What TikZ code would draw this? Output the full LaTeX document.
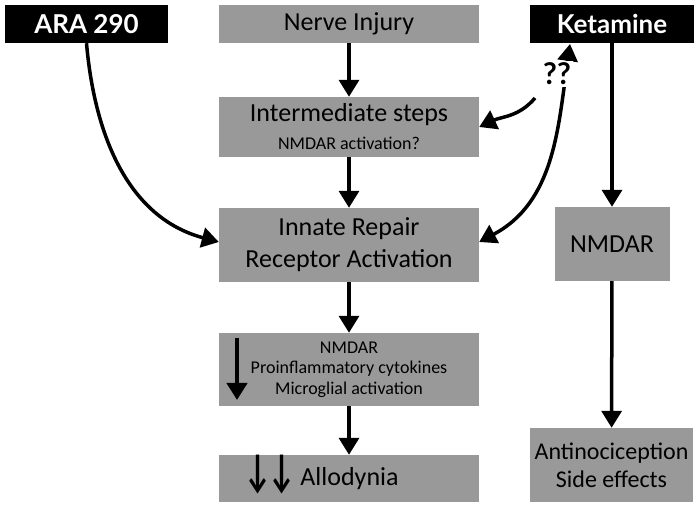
\documentclass[tikz,border=0pt]{standalone}
\usepackage{fontspec}
\usepackage{graphicx}
\setmainfont{Carlito}
\newfontfamily\gill{Lato}
\usetikzlibrary{arrows.meta}
\definecolor{boxgray}{HTML}{999999}
\tikzstyle{stage}=[fill=boxgray, minimum width=260pt, align=center, inner sep=0pt, font=\fontsize{26}{32}\selectfont]
\tikzstyle{drug}=[fill=black, text=white, minimum height=38pt, inner sep=0pt, font=\gill\bfseries\fontsize{26}{28}\selectfont]
\tikzstyle{link}=[line width=3.5pt, -{Triangle[width=20pt, length=17pt]}]
\newcommand{\dn}{\scalebox{0.65}[1]{↓}}

\begin{document}
\begin{tikzpicture}[x=1pt, y=1pt]
\useasboundingbox (0,0) rectangle (699,508);

\node [drug, minimum width=163pt] (A) at (86.5, 484) {ARA 290};
\node [drug, minimum width=164pt] (K) at (612, 484) {Ketamine};
\node [stage, minimum height=38pt] (N) at (349, 484) {Nerve Injury};
\node [stage, minimum height=60pt] (I) at (349, 381) {{\fontsize{26}{26}\selectfont Intermediate steps}\\[-4pt]{\fontsize{18}{20}\selectfont NMDAR activation?}};
\node [stage, minimum height=74pt] (R) at (349, 263) {Innate Repair\\Receptor Activation};
\node [stage, minimum height=73pt, font=\fontsize{18}{20.5}\selectfont] (E) at (349, 138.5) {NMDAR\\Proinflammatory cytokines\\Microglial activation};
\node [stage, minimum height=47pt] (D) at (349, 29.5) {\smash{\raisebox{-1pt}{\bfseries\fontsize{46}{46}\selectfont\dn\kern-3pt\dn}}\kern-1pt{} Allodynia\hspace{55pt}};
\node [stage, minimum width=115pt, minimum height=74pt] (M) at (612, 264) {NMDAR};
\node [stage, minimum width=163pt, minimum height=74pt, font=\fontsize{24}{28}\selectfont] (S) at (611.5, 43) {Antinociception\\Side effects};
\coordinate (qt) at (535, 410);
\coordinate (kf) at (570, 464);
\coordinate (d1) at (237, 170);
\coordinate (d2) at (237, 108);

\draw [link] (N) -- (I);
\draw [link] (I) -- (R);
\draw [link] (R) -- (E);
\draw [link] (E) -- (D);
\draw [link] (K) -- (M);
\draw [link] (M) -- (S);
\draw [link] (A.south) to [out=-85, in=165] ([yshift=3pt]R.west);
\draw [link, {Triangle[width=20pt, length=17pt]}-{Triangle[width=20pt, length=17pt]}] ([yshift=3pt]R.east) to [out=28, in=-98] (kf);
\node [fill=white, inner sep=2pt, font=\gill\bfseries\fontsize{30}{32}\selectfont] (q) at (557, 434) {??};
\draw [link] (qt) to [out=-130, in=25] (I.east);
\draw [link, line width=4.5pt] (d1) -- (d2);

\end{tikzpicture}
\end{document}
